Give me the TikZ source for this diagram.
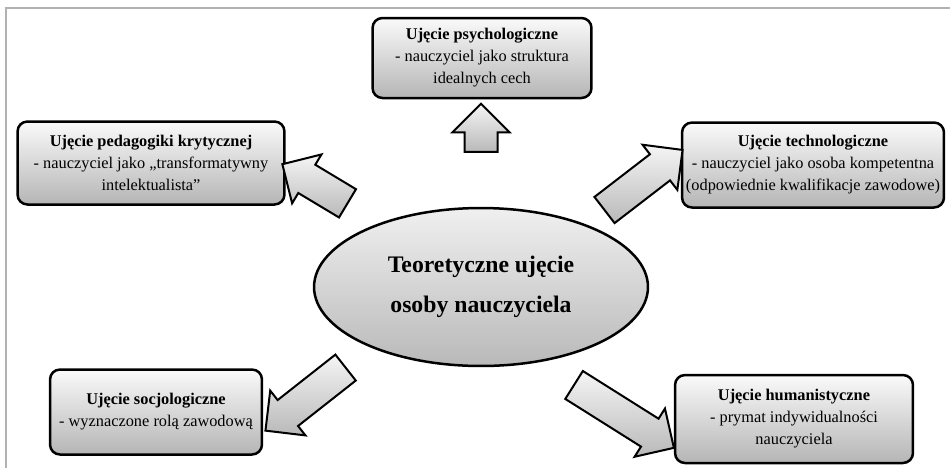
\documentclass[tikz,border=0pt]{standalone}
\usepackage{fontspec}
\setmainfont{Liberation Serif}
\usetikzlibrary{shapes.geometric,shapes.arrows}

\begin{document}
\begin{tikzpicture}[x=0.02cm,y=-0.02cm,
		viewbox/.style={draw, rounded corners=2mm, line width=0.5mm, top color=gray!4, bottom color=gray!58, align=center, font=\fontsize{9.3}{12.5}\selectfont, inner sep=2pt},
		centre/.style={ellipse, draw, line width=0.5mm, top color=gray!12, bottom color=gray!55, align=center, font=\fontsize{13.5}{22.8}\selectfont\bfseries},
		bigarrow/.style={single arrow, draw, line width=0.4mm, top color=gray!8, bottom color=gray!55, inner xsep=0pt, inner ysep=0.31cm, single arrow head extend=0.24cm}]
		\useasboundingbox (0,0) rectangle (950,468);
		\draw[gray!60, line width=0.4mm] (6,468) -- (6,8) -- (950,8);

		\node[centre, minimum width=6.68cm, minimum height=3.16cm] (teacher) at (481,287) {Teoretyczne ujęcie\\osoby nauczyciela};

		\node[viewbox, minimum width=4.38cm, minimum height=1.6cm] (psych) at (482,58) {\textbf{Ujęcie psychologiczne}\\- nauczyciel jako struktura\\idealnych cech};
		\node[viewbox, minimum width=5.34cm, minimum height=1.66cm] (critic) at (151,163) {\textbf{Ujęcie pedagogiki krytycznej}\\- nauczyciel jako „transformatywny\\intelektualista”};
		\node[viewbox, minimum width=5.24cm, minimum height=1.7cm] (techno) at (813,165) {\textbf{Ujęcie technologiczne}\\- nauczyciel jako osoba kompetentna\\(odpowiednie kwalifikacje zawodowe)};
		\node[viewbox, minimum width=4.24cm, minimum height=1.7cm] (socio) at (156,412) {\textbf{Ujęcie socjologiczne}\\- wyznaczone rolą zawodową};
		\node[viewbox, minimum width=4.76cm, minimum height=1.76cm] (human) at (794,419) {\textbf{Ujęcie humanistyczne}\\- prymat indywidualności\\nauczyciela};

		% block arrows from the centre
		\node[bigarrow, minimum height=0.96cm, rotate=90] (toPsych) at (481,136) {};
		\node[bigarrow, minimum height=1.52cm, rotate=149] (toCritic) at (322,188) {};
		\node[bigarrow, minimum height=1.97cm, rotate=37.6] (toTechno) at (637,185) {};
		\node[bigarrow, minimum height=2.04cm, rotate=218.2] (toSocio) at (312,394) {};
		\node[bigarrow, minimum height=2.36cm, rotate=-32.2] (toHuman) at (617,412) {};
	\end{tikzpicture}
\end{document}
